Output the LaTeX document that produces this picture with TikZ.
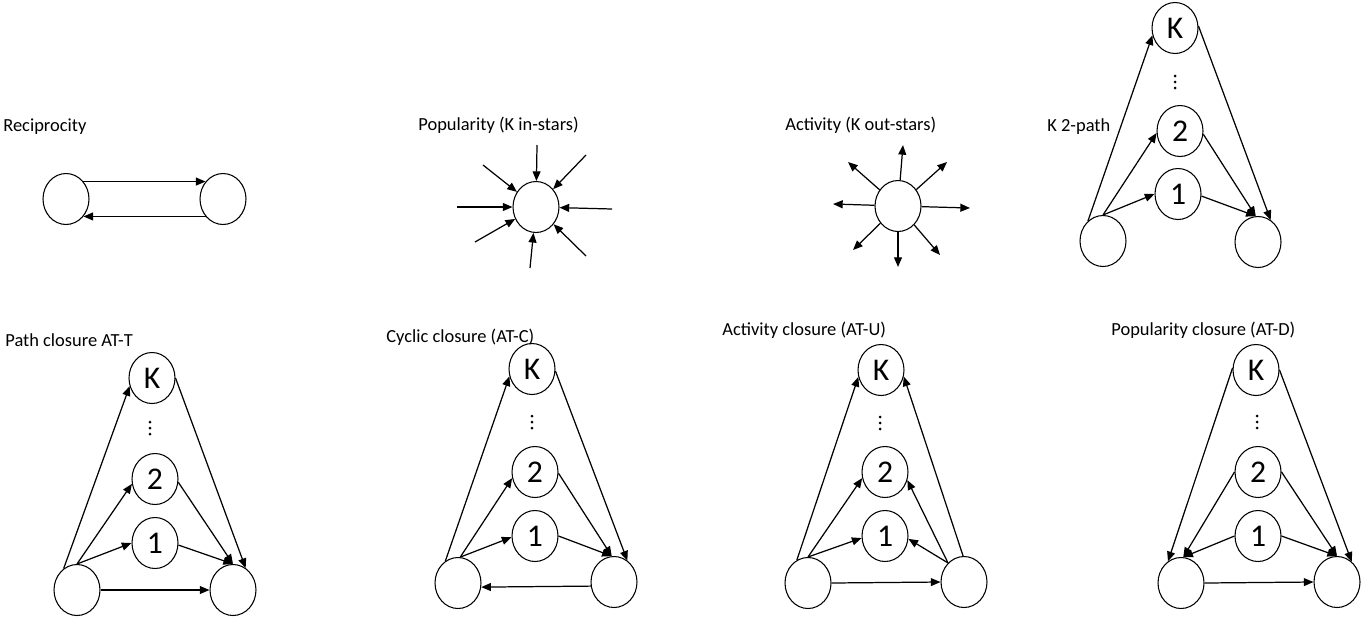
\documentclass[tikz,border=0pt]{standalone}
\usepackage{fontspec}
\setmainfont{Carlito}
\usepackage{tikz}
\usetikzlibrary{shapes.geometric,arrows.meta}
\tikzset{
    vtx/.style={draw, ellipse, line width=0.6pt, minimum width=0.92cm, minimum height=1.02cm, inner sep=0pt, font=\fontsize{18}{18}\selectfont},
    lbl/.style={anchor=west, inner sep=0pt, font=\fontsize{10.5}{12}\selectfont},
    arr/.style={-{Triangle[length=5.5pt,width=4.5pt]}, line width=0.7pt}
}

\begin{document}
\begin{tikzpicture}[x=0.02cm, y=-0.02cm]
    \useasboundingbox (0,0) rectangle (1361,616);
    % top row
    \node[lbl] (recl) at (3,127) {Reciprocity};
    \node[vtx] (rL) at (66,199) {}; \node[vtx] (rR) at (223,199) {};
    \draw[arr] (rL.45) -- (rR.135); \draw[arr] (rR.-135) -- (rL.-45);

    \node[lbl] (popl) at (418,125) {Popularity (K in-stars)};
    \node[vtx] (pop) at (536,207) {};
    \coordinate (in1) at (537,145); \coordinate (in2) at (586,155); \coordinate (in3) at (612,209); \coordinate (in4) at (586,256);
    \coordinate (in5) at (530,268); \coordinate (in6) at (475,242); \coordinate (in7) at (457,207); \coordinate (in8) at (483,165);
    \draw[arr] (in1) -- (pop); \draw[arr] (in2) -- (pop); \draw[arr] (in3) -- (pop); \draw[arr] (in4) -- (pop);
    \draw[arr] (in5) -- (pop); \draw[arr] (in6) -- (pop); \draw[arr] (in7) -- (pop); \draw[arr] (in8) -- (pop);

    \node[lbl] (actl) at (785,125) {Activity (K out-stars)};
    \node[vtx] (act) at (898,206) {};
    \coordinate (out1) at (903,145); \coordinate (out2) at (947,162); \coordinate (out3) at (970,208); \coordinate (out4) at (940,255);
    \coordinate (out5) at (898,267); \coordinate (out6) at (853,250); \coordinate (out7) at (833,204); \coordinate (out8) at (848,162);
    \draw[arr] (act) -- (out1); \draw[arr] (act) -- (out2); \draw[arr] (act) -- (out3); \draw[arr] (act) -- (out4);
    \draw[arr] (act) -- (out5); \draw[arr] (act) -- (out6); \draw[arr] (act) -- (out7); \draw[arr] (act) -- (out8);

    \node[lbl] (twol) at (1047,127) {K 2-path};
    \node[vtx] (tK) at (1175,28) {K}; \node[vtx] (t2) at (1180,131) {2}; \node[vtx] (t1) at (1178,194) {1};
    \node[vtx] (tL) at (1103,241) {}; \node[vtx] (tR) at (1258,242) {};
    \fill (1175,76) circle (1.5) (1175,82) circle (1.5) (1175,88) circle (1.5);
    \draw[arr] (tL.127) -- (tK.198); \draw[arr] (tL.90) -- (t2.185); \draw[arr] (tL.90) -- (t1.180);
    \draw[arr] (t1.-5) -- (tR.95); \draw[arr] (t2.-8) -- (tR.95); \draw[arr] (tK.5) -- (tR.60);

    % bottom row
    \node[lbl] (pathl) at (5,340) {Path closure AT-T};
    \node[vtx] (pK) at (152,378) {K}; \node[vtx] (p2) at (155,479) {2}; \node[vtx] (p1) at (155,543) {1};
    \node[vtx] (pL) at (77,590) {}; \node[vtx] (pR) at (233,590) {};
    \fill (150,422) circle (1.5) (150,428) circle (1.5) (150,434) circle (1.5);
    \draw[arr] (pL.122) -- (pK.200); \draw[arr] (pL.90) -- (p2.192); \draw[arr] (pL.90) -- (p1.180);
    \draw[arr] (p1.-5) -- (pR.90); \draw[arr] (p2.-8) -- (pR.90); \draw[arr] (pK.0) -- (pR.60);
    \draw[arr] (pL.0) -- (pR.180);

    \node[lbl] (cycl) at (386,337) {Cyclic closure (AT-C)};
    \node[vtx] (cK) at (532,369) {K}; \node[vtx] (c2) at (535,472) {2}; \node[vtx] (c1) at (535,536) {1};
    \node[vtx] (cL) at (458,583) {}; \node[vtx] (cR) at (614,582) {};
    \fill (532,416) circle (1.5) (532,422) circle (1.5) (532,428) circle (1.5);
    \draw[arr] (cL.120) -- (cK.198); \draw[arr] (cL.85) -- (c2.195); \draw[arr] (cL.85) -- (c1.183);
    \draw[arr] (c1.0) -- (cR.95); \draw[arr] (c2.-3) -- (cR.95); \draw[arr] (cK.-5) -- (cR.58);
    \draw[arr] (cR.190) -- (cL.-10);

    \node[lbl] (actcl) at (722,330) {Activity closure (AT-U)};
    \node[vtx] (aK) at (881,370) {K}; \node[vtx] (a2) at (885,472) {2}; \node[vtx] (a1) at (885,536) {1};
    \node[vtx] (aL) at (808,583) {}; \node[vtx] (aR) at (964,582) {};
    \fill (880,417) circle (1.5) (880,423) circle (1.5) (880,429) circle (1.5);
    \draw[arr] (aL.116) -- (aK.197); \draw[arr] (aL.90) -- (a2.195); \draw[arr] (aL.90) -- (a1.185);
    \draw[arr] (aR.130) -- (a1.-7); \draw[arr] (aR.130) -- (a2.-20); \draw[arr] (aR.92) -- (aK.-16);
    \draw[arr] (aL.0) -- (aR.180);

    \node[lbl] (popcl) at (1111,330) {Popularity closure (AT-D)};
    \node[vtx] (dK) at (1256,370) {K}; \node[vtx] (d2) at (1258,472) {2}; \node[vtx] (d1) at (1258,536) {1};
    \node[vtx] (dL) at (1181,583) {}; \node[vtx] (dR) at (1337,582) {};
    \fill (1257,416) circle (1.5) (1257,422) circle (1.5) (1257,428) circle (1.5);
    \draw[arr] (dK.175) -- (dL.121); \draw[arr] (d2.180) -- (dL.85); \draw[arr] (d1.180) -- (dL.85);
    \draw[arr] (d1.0) -- (dR.90); \draw[arr] (d2.0) -- (dR.90); \draw[arr] (dK.0) -- (dR.54);
    \draw[arr] (dL.0) -- (dR.180);
\end{tikzpicture}
\end{document}
